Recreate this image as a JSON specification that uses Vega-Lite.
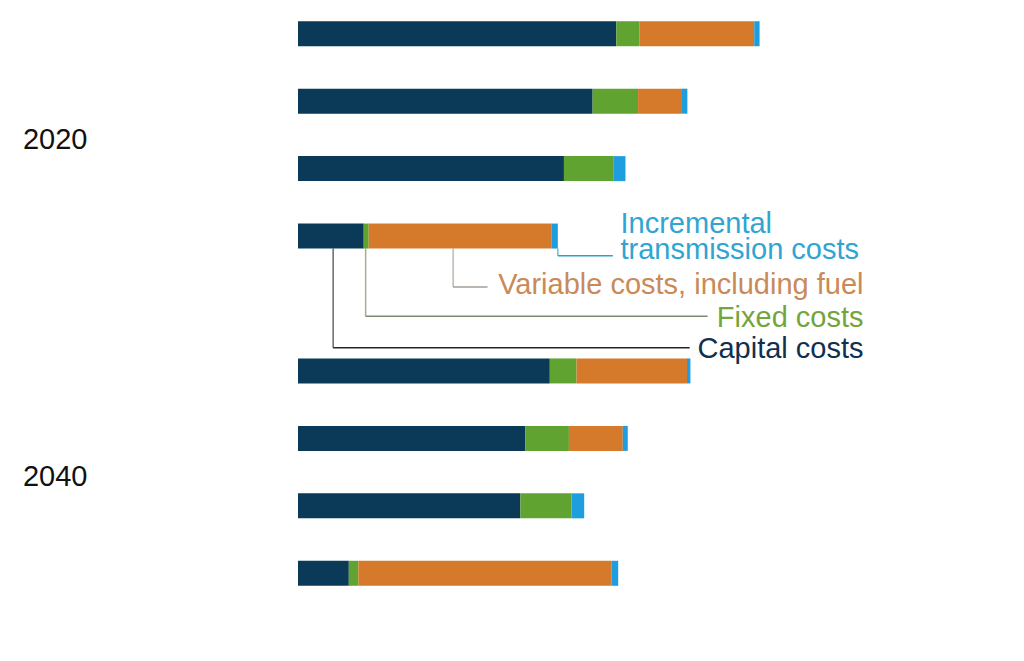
{
  "$schema": "https://vega.github.io/schema/vega-lite/v6.json",
  "width": 726,
  "height": 607,
  "autosize": {"type": "none"},
  "padding": {"left": 298, "top": 0, "right": 0, "bottom": 54},
  "background": "white",
  "config": {
    "view": {"stroke": null},
    "font": "Liberation Sans",
    "axis": {"labelFont": "Liberation Sans"},
    "text": {"font": "Liberation Sans"}
  },
  "datasets": {
    "costs": [
      {"year": "2020", "tech": "Coal", "cat": "2020 Coal", "component": "Capital costs", "rank": 1, "value": 8.33},
      {"year": "2020", "tech": "Coal", "cat": "2020 Coal", "component": "Fixed costs", "rank": 2, "value": 0.61},
      {"year": "2020", "tech": "Coal", "cat": "2020 Coal", "component": "Variable costs, including fuel", "rank": 3, "value": 3.0},
      {"year": "2020", "tech": "Coal", "cat": "2020 Coal", "component": "Incremental transmission costs", "rank": 4, "value": 0.14},
      {"year": "2020", "tech": "Nuclear", "cat": "2020 Nuclear", "component": "Capital costs", "rank": 1, "value": 7.71},
      {"year": "2020", "tech": "Nuclear", "cat": "2020 Nuclear", "component": "Fixed costs", "rank": 2, "value": 1.19},
      {"year": "2020", "tech": "Nuclear", "cat": "2020 Nuclear", "component": "Variable costs, including fuel", "rank": 3, "value": 1.15},
      {"year": "2020", "tech": "Nuclear", "cat": "2020 Nuclear", "component": "Incremental transmission costs", "rank": 4, "value": 0.14},
      {"year": "2020", "tech": "Wind", "cat": "2020 Wind", "component": "Capital costs", "rank": 1, "value": 6.96},
      {"year": "2020", "tech": "Wind", "cat": "2020 Wind", "component": "Fixed costs", "rank": 2, "value": 1.29},
      {"year": "2020", "tech": "Wind", "cat": "2020 Wind", "component": "Variable costs, including fuel", "rank": 3, "value": 0},
      {"year": "2020", "tech": "Wind", "cat": "2020 Wind", "component": "Incremental transmission costs", "rank": 4, "value": 0.32},
      {"year": "2020", "tech": "Natural gas combined cycle", "cat": "2020 Natural gas combined cycle", "component": "Capital costs", "rank": 1, "value": 1.72},
      {"year": "2020", "tech": "Natural gas combined cycle", "cat": "2020 Natural gas combined cycle", "component": "Fixed costs", "rank": 2, "value": 0.13},
      {"year": "2020", "tech": "Natural gas combined cycle", "cat": "2020 Natural gas combined cycle", "component": "Variable costs, including fuel", "rank": 3, "value": 4.78},
      {"year": "2020", "tech": "Natural gas combined cycle", "cat": "2020 Natural gas combined cycle", "component": "Incremental transmission costs", "rank": 4, "value": 0.17},
      {"year": "2040", "tech": "Coal", "cat": "2040 Coal", "component": "Capital costs", "rank": 1, "value": 6.59},
      {"year": "2040", "tech": "Coal", "cat": "2040 Coal", "component": "Fixed costs", "rank": 2, "value": 0.70},
      {"year": "2040", "tech": "Coal", "cat": "2040 Coal", "component": "Variable costs, including fuel", "rank": 3, "value": 2.89},
      {"year": "2040", "tech": "Coal", "cat": "2040 Coal", "component": "Incremental transmission costs", "rank": 4, "value": 0.09},
      {"year": "2040", "tech": "Nuclear", "cat": "2040 Nuclear", "component": "Capital costs", "rank": 1, "value": 5.95},
      {"year": "2040", "tech": "Nuclear", "cat": "2040 Nuclear", "component": "Fixed costs", "rank": 2, "value": 1.14},
      {"year": "2040", "tech": "Nuclear", "cat": "2040 Nuclear", "component": "Variable costs, including fuel", "rank": 3, "value": 1.41},
      {"year": "2040", "tech": "Nuclear", "cat": "2040 Nuclear", "component": "Incremental transmission costs", "rank": 4, "value": 0.13},
      {"year": "2040", "tech": "Wind", "cat": "2040 Wind", "component": "Capital costs", "rank": 1, "value": 5.82},
      {"year": "2040", "tech": "Wind", "cat": "2040 Wind", "component": "Fixed costs", "rank": 2, "value": 1.34},
      {"year": "2040", "tech": "Wind", "cat": "2040 Wind", "component": "Variable costs, including fuel", "rank": 3, "value": 0},
      {"year": "2040", "tech": "Wind", "cat": "2040 Wind", "component": "Incremental transmission costs", "rank": 4, "value": 0.33},
      {"year": "2040", "tech": "Natural gas combined cycle", "cat": "2040 Natural gas combined cycle", "component": "Capital costs", "rank": 1, "value": 1.33},
      {"year": "2040", "tech": "Natural gas combined cycle", "cat": "2040 Natural gas combined cycle", "component": "Fixed costs", "rank": 2, "value": 0.25},
      {"year": "2040", "tech": "Natural gas combined cycle", "cat": "2040 Natural gas combined cycle", "component": "Variable costs, including fuel", "rank": 3, "value": 6.63},
      {"year": "2040", "tech": "Natural gas combined cycle", "cat": "2040 Natural gas combined cycle", "component": "Incremental transmission costs", "rank": 4, "value": 0.17}
    ],
    "years": [
      {"year": "2020", "cat": "2020 Wind", "x": -7.2},
      {"year": "2040", "cat": "2040 Wind", "x": -7.2}
    ],
    "boxes": [
      {"cat": "2020 Natural gas combined cycle", "x": 8.39, "x2": 14.89},
      {"cat": "gap", "x": 4.99, "x2": 14.89}
    ],
    "leaders": [
      {"comp": "Incremental transmission costs", "cat": "2020 Natural gas combined cycle", "x": 6.8, "x2": 8.24},
      {"comp": "Variable costs, including fuel", "cat": "2020 Natural gas combined cycle", "x": 4.06, "x2": 4.96},
      {"comp": "Fixed costs", "cat": "2020 Natural gas combined cycle", "x": 1.77, "x2": 10.72},
      {"comp": "Capital costs", "cat": "2020 Natural gas combined cycle", "x": 0.92, "x2": 10.25}
    ],
    "labels": [
      {"label": "Incremental", "cat": "2020 Natural gas combined cycle", "x": 8.44},
      {"label": "transmission costs", "cat": "2020 Natural gas combined cycle", "x": 8.44},
      {"label": "Variable costs, including fuel", "cat": "2020 Natural gas combined cycle", "x": 14.8},
      {"label": "Fixed costs", "cat": "2020 Natural gas combined cycle", "x": 14.8},
      {"label": "Capital costs", "cat": "2020 Natural gas combined cycle", "x": 14.8}
    ]
  },
  "layer": [
    {
      "data": {"name": "boxes"},
      "mark": {"type": "rect", "color": "white"},
      "encoding": {
        "y": {"field": "cat", "type": "nominal", "sort": null, "scale": {"domain": ["2020 Coal", "2020 Nuclear", "2020 Wind", "2020 Natural gas combined cycle", "gap", "2040 Coal", "2040 Nuclear", "2040 Wind", "2040 Natural gas combined cycle"], "paddingInner": 0, "paddingOuter": 0}, "axis": null},
        "x": {"field": "x", "type": "quantitative", "scale": {"domain": [0, 19], "nice": false}, "axis": null},
        "x2": {"field": "x2"}
      }
    },
    {
      "data": {"name": "costs"},
      "mark": {"type": "bar", "height": 25},
      "encoding": {
        "y": {
          "field": "cat",
          "type": "nominal",
          "sort": null,
          "scale": {"domain": ["2020 Coal", "2020 Nuclear", "2020 Wind", "2020 Natural gas combined cycle", "gap", "2040 Coal", "2040 Nuclear", "2040 Wind", "2040 Natural gas combined cycle"], "paddingInner": 0, "paddingOuter": 0},
          "axis": {
            "title": null,
            "domain": true,
            "domainColor": "#1a1a1a",
            "domainWidth": 1.2,
            "grid": false,
            "tickBand": "extent",
            "tickSize": 8,
            "tickColor": "#1a1a1a",
            "labelFontSize": 29,
            "labelColor": "#111111",
            "labelPadding": 2,
            "labelLineHeight": 34,
            "labelLimit": 400,
            "labelOverlap": false,
            "labelExpr": "datum.value == 'gap' ? '' : (indexof(datum.value, 'Natural') >= 0 ? ['Natural gas', 'combined cycle'] : substring(datum.value, 5))"
          }
        },
        "x": {
          "field": "value",
          "type": "quantitative",
          "stack": "zero",
          "scale": {"domain": [0, 19], "nice": false},
          "axis": {
            "title": null,
            "values": [0, 5, 10, 15],
            "domain": false,
            "ticks": false,
            "grid": true,
            "gridColor": "#c4c4c4",
            "gridWidth": 1,
            "labelFontSize": 29,
            "labelColor": "#111111",
            "labelPadding": 18,
            "labelFlush": false
          }
        },
        "order": {"field": "rank", "type": "quantitative"},
        "color": {
          "field": "component",
          "type": "nominal",
          "scale": {
            "domain": ["Capital costs", "Fixed costs", "Variable costs, including fuel", "Incremental transmission costs"],
            "range": ["#0b3a58", "#61a330", "#d5792b", "#1e9ddf"]
          },
          "legend": null
        }
      }
    },
    {
      "data": {"name": "years"},
      "mark": {"type": "text", "align": "left", "baseline": "middle", "fontSize": 29, "color": "#111111", "dy": -28.5},
      "encoding": {
        "y": {"field": "cat", "type": "nominal", "sort": null, "scale": {"domain": ["2020 Coal", "2020 Nuclear", "2020 Wind", "2020 Natural gas combined cycle", "gap", "2040 Coal", "2040 Nuclear", "2040 Wind", "2040 Natural gas combined cycle"], "paddingInner": 0, "paddingOuter": 0}, "axis": null},
        "x": {"field": "x", "type": "quantitative", "scale": {"domain": [0, 19], "nice": false}, "axis": null},
        "text": {"field": "year"}
      }
    },
    {
      "data": {"name": "leaders"},
      "transform": [{"filter": "datum.comp == 'Incremental transmission costs'"}],
      "mark": {"type": "tick", "orient": "vertical", "size": 7.1, "thickness": 1.5, "color": "#2f9fd0", "yOffset": 16.05},
      "encoding": {
        "y": {"field": "cat", "type": "nominal", "sort": null, "scale": {"domain": ["2020 Coal", "2020 Nuclear", "2020 Wind", "2020 Natural gas combined cycle", "gap", "2040 Coal", "2040 Nuclear", "2040 Wind", "2040 Natural gas combined cycle"], "paddingInner": 0, "paddingOuter": 0}, "axis": null},
        "x": {"field": "x", "type": "quantitative", "scale": {"domain": [0, 19], "nice": false}, "axis": null}
      }
    },
    {
      "data": {"name": "leaders"},
      "transform": [{"filter": "datum.comp == 'Variable costs, including fuel'"}],
      "mark": {"type": "tick", "orient": "vertical", "size": 38.4, "thickness": 1.5, "color": "#a39c94", "yOffset": 31.7},
      "encoding": {
        "y": {"field": "cat", "type": "nominal", "sort": null, "scale": {"domain": ["2020 Coal", "2020 Nuclear", "2020 Wind", "2020 Natural gas combined cycle", "gap", "2040 Coal", "2040 Nuclear", "2040 Wind", "2040 Natural gas combined cycle"], "paddingInner": 0, "paddingOuter": 0}, "axis": null},
        "x": {"field": "x", "type": "quantitative", "scale": {"domain": [0, 19], "nice": false}, "axis": null}
      }
    },
    {
      "data": {"name": "leaders"},
      "transform": [{"filter": "datum.comp == 'Fixed costs'"}],
      "mark": {"type": "tick", "orient": "vertical", "size": 67.8, "thickness": 1.5, "color": "#7d8a70", "yOffset": 46.4},
      "encoding": {
        "y": {"field": "cat", "type": "nominal", "sort": null, "scale": {"domain": ["2020 Coal", "2020 Nuclear", "2020 Wind", "2020 Natural gas combined cycle", "gap", "2040 Coal", "2040 Nuclear", "2040 Wind", "2040 Natural gas combined cycle"], "paddingInner": 0, "paddingOuter": 0}, "axis": null},
        "x": {"field": "x", "type": "quantitative", "scale": {"domain": [0, 19], "nice": false}, "axis": null}
      }
    },
    {
      "data": {"name": "leaders"},
      "transform": [{"filter": "datum.comp == 'Capital costs'"}],
      "mark": {"type": "tick", "orient": "vertical", "size": 99.1, "thickness": 1.5, "color": "#262626", "yOffset": 62.05},
      "encoding": {
        "y": {"field": "cat", "type": "nominal", "sort": null, "scale": {"domain": ["2020 Coal", "2020 Nuclear", "2020 Wind", "2020 Natural gas combined cycle", "gap", "2040 Coal", "2040 Nuclear", "2040 Wind", "2040 Natural gas combined cycle"], "paddingInner": 0, "paddingOuter": 0}, "axis": null},
        "x": {"field": "x", "type": "quantitative", "scale": {"domain": [0, 19], "nice": false}, "axis": null}
      }
    },
    {
      "data": {"name": "leaders"},
      "transform": [{"filter": "datum.comp == 'Incremental transmission costs'"}],
      "mark": {"type": "rule", "strokeWidth": 1.5, "color": "#2f9fd0", "yOffset": 19.6},
      "encoding": {
        "y": {"field": "cat", "type": "nominal", "sort": null, "scale": {"domain": ["2020 Coal", "2020 Nuclear", "2020 Wind", "2020 Natural gas combined cycle", "gap", "2040 Coal", "2040 Nuclear", "2040 Wind", "2040 Natural gas combined cycle"], "paddingInner": 0, "paddingOuter": 0}, "axis": null},
        "x": {"field": "x", "type": "quantitative", "scale": {"domain": [0, 19], "nice": false}, "axis": null},
        "x2": {"field": "x2"}
      }
    },
    {
      "data": {"name": "leaders"},
      "transform": [{"filter": "datum.comp == 'Variable costs, including fuel'"}],
      "mark": {"type": "rule", "strokeWidth": 1.5, "color": "#a39c94", "yOffset": 50.9},
      "encoding": {
        "y": {"field": "cat", "type": "nominal", "sort": null, "scale": {"domain": ["2020 Coal", "2020 Nuclear", "2020 Wind", "2020 Natural gas combined cycle", "gap", "2040 Coal", "2040 Nuclear", "2040 Wind", "2040 Natural gas combined cycle"], "paddingInner": 0, "paddingOuter": 0}, "axis": null},
        "x": {"field": "x", "type": "quantitative", "scale": {"domain": [0, 19], "nice": false}, "axis": null},
        "x2": {"field": "x2"}
      }
    },
    {
      "data": {"name": "leaders"},
      "transform": [{"filter": "datum.comp == 'Fixed costs'"}],
      "mark": {"type": "rule", "strokeWidth": 1.5, "color": "#7d8a70", "yOffset": 80.3},
      "encoding": {
        "y": {"field": "cat", "type": "nominal", "sort": null, "scale": {"domain": ["2020 Coal", "2020 Nuclear", "2020 Wind", "2020 Natural gas combined cycle", "gap", "2040 Coal", "2040 Nuclear", "2040 Wind", "2040 Natural gas combined cycle"], "paddingInner": 0, "paddingOuter": 0}, "axis": null},
        "x": {"field": "x", "type": "quantitative", "scale": {"domain": [0, 19], "nice": false}, "axis": null},
        "x2": {"field": "x2"}
      }
    },
    {
      "data": {"name": "leaders"},
      "transform": [{"filter": "datum.comp == 'Capital costs'"}],
      "mark": {"type": "rule", "strokeWidth": 1.5, "color": "#262626", "yOffset": 111.6},
      "encoding": {
        "y": {"field": "cat", "type": "nominal", "sort": null, "scale": {"domain": ["2020 Coal", "2020 Nuclear", "2020 Wind", "2020 Natural gas combined cycle", "gap", "2040 Coal", "2040 Nuclear", "2040 Wind", "2040 Natural gas combined cycle"], "paddingInner": 0, "paddingOuter": 0}, "axis": null},
        "x": {"field": "x", "type": "quantitative", "scale": {"domain": [0, 19], "nice": false}, "axis": null},
        "x2": {"field": "x2"}
      }
    },
    {
      "data": {"name": "labels"},
      "transform": [{"filter": "datum.label == 'Incremental'"}],
      "mark": {"type": "text", "align": "left", "baseline": "alphabetic", "fontSize": 29, "color": "#30a5d2", "dy": -3.4},
      "encoding": {
        "y": {"field": "cat", "type": "nominal", "sort": null, "scale": {"domain": ["2020 Coal", "2020 Nuclear", "2020 Wind", "2020 Natural gas combined cycle", "gap", "2040 Coal", "2040 Nuclear", "2040 Wind", "2040 Natural gas combined cycle"], "paddingInner": 0, "paddingOuter": 0}, "axis": null},
        "x": {"field": "x", "type": "quantitative", "scale": {"domain": [0, 19], "nice": false}, "axis": null},
        "text": {"field": "label"}
      }
    },
    {
      "data": {"name": "labels"},
      "transform": [{"filter": "datum.label == 'transmission costs'"}],
      "mark": {"type": "text", "align": "left", "baseline": "alphabetic", "fontSize": 29, "color": "#30a5d2", "dy": 22.6},
      "encoding": {
        "y": {"field": "cat", "type": "nominal", "sort": null, "scale": {"domain": ["2020 Coal", "2020 Nuclear", "2020 Wind", "2020 Natural gas combined cycle", "gap", "2040 Coal", "2040 Nuclear", "2040 Wind", "2040 Natural gas combined cycle"], "paddingInner": 0, "paddingOuter": 0}, "axis": null},
        "x": {"field": "x", "type": "quantitative", "scale": {"domain": [0, 19], "nice": false}, "axis": null},
        "text": {"field": "label"}
      }
    },
    {
      "data": {"name": "labels"},
      "transform": [{"filter": "datum.label == 'Variable costs, including fuel'"}],
      "mark": {"type": "text", "align": "right", "baseline": "alphabetic", "fontSize": 29, "color": "#c98a58", "dy": 57.6},
      "encoding": {
        "y": {"field": "cat", "type": "nominal", "sort": null, "scale": {"domain": ["2020 Coal", "2020 Nuclear", "2020 Wind", "2020 Natural gas combined cycle", "gap", "2040 Coal", "2040 Nuclear", "2040 Wind", "2040 Natural gas combined cycle"], "paddingInner": 0, "paddingOuter": 0}, "axis": null},
        "x": {"field": "x", "type": "quantitative", "scale": {"domain": [0, 19], "nice": false}, "axis": null},
        "text": {"field": "label"}
      }
    },
    {
      "data": {"name": "labels"},
      "transform": [{"filter": "datum.label == 'Fixed costs'"}],
      "mark": {"type": "text", "align": "right", "baseline": "alphabetic", "fontSize": 29, "color": "#74a53c", "dy": 90.6},
      "encoding": {
        "y": {"field": "cat", "type": "nominal", "sort": null, "scale": {"domain": ["2020 Coal", "2020 Nuclear", "2020 Wind", "2020 Natural gas combined cycle", "gap", "2040 Coal", "2040 Nuclear", "2040 Wind", "2040 Natural gas combined cycle"], "paddingInner": 0, "paddingOuter": 0}, "axis": null},
        "x": {"field": "x", "type": "quantitative", "scale": {"domain": [0, 19], "nice": false}, "axis": null},
        "text": {"field": "label"}
      }
    },
    {
      "data": {"name": "labels"},
      "transform": [{"filter": "datum.label == 'Capital costs'"}],
      "mark": {"type": "text", "align": "right", "baseline": "alphabetic", "fontSize": 29, "color": "#10304d", "dy": 121.6},
      "encoding": {
        "y": {"field": "cat", "type": "nominal", "sort": null, "scale": {"domain": ["2020 Coal", "2020 Nuclear", "2020 Wind", "2020 Natural gas combined cycle", "gap", "2040 Coal", "2040 Nuclear", "2040 Wind", "2040 Natural gas combined cycle"], "paddingInner": 0, "paddingOuter": 0}, "axis": null},
        "x": {"field": "x", "type": "quantitative", "scale": {"domain": [0, 19], "nice": false}, "axis": null},
        "text": {"field": "label"}
      }
    }
  ]
}
